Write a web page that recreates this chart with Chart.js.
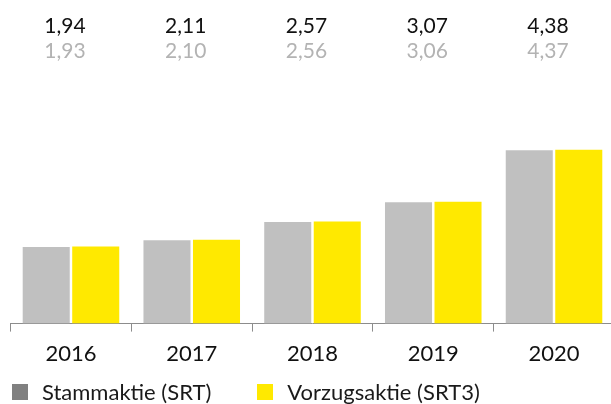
<!DOCTYPE html>
<html lang="de">
<head>
    <meta charset="UTF-8" />
    <title>Dividende je Aktie</title>
    <script src="https://cdn.jsdelivr.net/npm/chart.js"></script>
    <style>
        html, body {
            margin: 0;
            padding: 0;
            background: #ffffff;
            overflow: hidden;
            font-family: Lato, sans-serif;
        }

        .chart-container {
            position: relative;
            width: 620px;
            height: 404px;
        }

        .legend {
            position: absolute;
            top: 378px;
            left: 12px;
            display: flex;
            font-size: 22px;
            color: #1a1a1a;
        }

        .legend span.item {
            display: flex;
            align-items: center;
            margin-right: 46px;
        }

        .legend span.box {
            display: inline-block;
            width: 16px;
            height: 16px;
            margin-right: 14px;
        }
    </style>
</head>
<body>
    <div class="chart-container">
        <canvas id="dividendChart"></canvas>
        <div class="legend" id="legend"></div>
    </div>

    <script>
        const years = ['2016', '2017', '2018', '2019', '2020'];
        const stammaktie = [1.93, 2.10, 2.56, 3.06, 4.37];
        const vorzugsaktie = [1.94, 2.11, 2.57, 3.07, 4.38];
        const seriesNames = ['Stammaktie (SRT)', 'Vorzugsaktie (SRT3)'];

        const barColors = ['#c0c0c0', '#ffe900'];
        const legendColors = ['#808080', '#ffe900'];

        const fmt = v => v.toFixed(2).replace('.', ',');

        // Werte oberhalb des Diagramms: Vorzugsaktie schwarz, Stammaktie grau
        const topLabels = {
            id: 'topLabels',
            afterDraw(chart) {
                const ctx = chart.ctx;
                const x = chart.scales.x;
                ctx.save();
                ctx.font = '21px Lato, sans-serif';
                ctx.textAlign = 'center';
                ctx.textBaseline = 'middle';
                years.forEach((year, i) => {
                    const cx = x.getPixelForValue(i) - 6;
                    ctx.fillStyle = '#111111';
                    ctx.fillText(fmt(vorzugsaktie[i]), cx, 26);
                    ctx.fillStyle = '#b3b3b3';
                    ctx.fillText(fmt(stammaktie[i]), cx, 51);
                });
                ctx.restore();
            }
        };

        const ctx = document.getElementById('dividendChart').getContext('2d');

        new Chart(ctx, {
            type: 'bar',
            data: {
                labels: years,
                datasets: [
                    {
                        label: seriesNames[0],
                        data: stammaktie,
                        backgroundColor: barColors[0],
                        borderWidth: 0,
                        barPercentage: 0.95,
                        categoryPercentage: 0.82
                    },
                    {
                        label: seriesNames[1],
                        data: vorzugsaktie,
                        backgroundColor: barColors[1],
                        borderWidth: 0,
                        barPercentage: 0.95,
                        categoryPercentage: 0.82
                    }
                ]
            },
            options: {
                responsive: true,
                maintainAspectRatio: false,
                animation: false,
                layout: {
                    padding: { top: 70, left: 10.6, right: 5.6, bottom: 28 }
                },
                scales: {
                    x: {
                        grid: {
                            display: true,
                            drawOnChartArea: false,
                            drawTicks: true,
                            tickLength: 8,
                            color: '#8c8c8c',
                            offset: true
                        },
                        border: { display: true, color: '#8c8c8c', width: 1 },
                        ticks: {
                            color: '#111111',
                            padding: 9,
                            font: { family: 'Lato', size: 22 }
                        }
                    },
                    y: {
                        display: false,
                        min: 0,
                        max: 6.39
                    }
                },
                plugins: {
                    legend: { display: false },
                    tooltip: { enabled: false }
                }
            },
            plugins: [topLabels]
        });

        const legend = document.getElementById('legend');
        seriesNames.forEach((name, i) => {
            const item = document.createElement('span');
            item.className = 'item';
            const box = document.createElement('span');
            box.className = 'box';
            box.style.background = legendColors[i];
            item.appendChild(box);
            item.appendChild(document.createTextNode(name));
            legend.appendChild(item);
        });
    </script>
</body>
</html>
